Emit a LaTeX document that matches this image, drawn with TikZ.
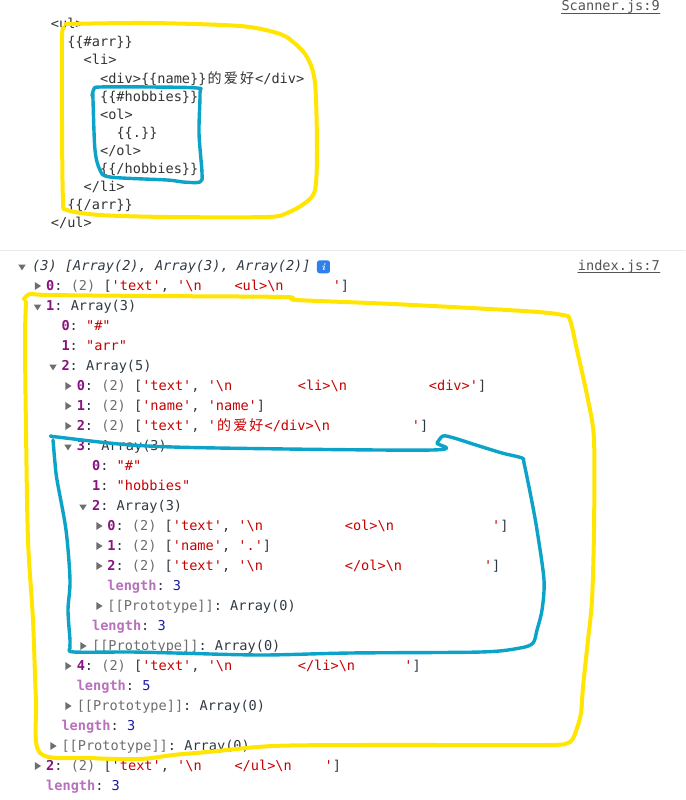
\documentclass[tikz,border=0pt]{standalone}
\usepackage{fontspec}
\setmonofont{DejaVu Sans Mono}
\newfontfamily\cjk{Noto Sans CJK SC}
\usetikzlibrary{positioning}

\definecolor{codegray}{HTML}{303942}
\definecolor{keycol}{HTML}{881280}
\definecolor{lencol}{HTML}{B871BD}
\definecolor{strcol}{HTML}{C80000}
\definecolor{numcol}{HTML}{1A1AA6}
\definecolor{cntcol}{HTML}{6E6E6E}
\definecolor{protocol}{HTML}{6E6E6E}
\definecolor{tricol}{HTML}{6E6E6E}
\definecolor{linkcol}{HTML}{545454}
\definecolor{sepcol}{HTML}{EAEAEA}
\definecolor{infoblue}{HTML}{2F80ED}
\definecolor{penyellow}{HTML}{FFE500}
\definecolor{penblue}{HTML}{0BA3C8}

\newcommand\ky[1]{{\color{keycol}\bfseries#1}:}
\newcommand\st[1]{{\color{strcol}#1}}
\newcommand\cnt[1]{{\color{cntcol}(#1)}}
\newcommand\bsn{\textbackslash n}
\newcommand\lenrow[1]{{\color{lencol}\bfseries length}:~{\color{numcol}#1}}
\newcommand\proto{{\color{protocol}[[Prototype]]}:~Array(0)}
\newcommand\zh[1]{\makebox[16.2pt]{\cjk\fontsize{14}{16}\selectfont#1}}

\begin{document}
\begin{tikzpicture}[x=1pt,y=-1pt,line cap=round,line join=round,
    log/.style={font=\fontsize{13.6}{16}\selectfont\ttfamily,text=codegray,inner sep=0pt,anchor=base west},
    src/.style={log,text=black!80},
    link/.style={log,text=linkcol,anchor=base east},
    infoicon/.style={fill=infoblue,rounded corners=2.5pt,minimum size=13pt,inner sep=0pt,text=white,font=\bfseries\itshape},
    penY/.style={draw=penyellow,line width=4pt},
    penB/.style={draw=penblue,line width=3.4pt},
    tridown/.pic={\fill[tricol] (-3.8,-2.5) -- (3.8,-2.5) -- (0,3.3) -- cycle;},
    triright/.pic={\fill[tricol] (-2.6,-3.9) -- (-2.6,3.9) -- (3.6,0) -- cycle;}]
\useasboundingbox[fill=white] (0,0) rectangle (685,800);

% template
\node[link] (lnkA) at (660,11) {Scanner.js:9};
\draw[linkcol,line width=0.7pt] ([yshift=-2pt]lnkA.base west) -- ([yshift=-2pt]lnkA.base east);
\node[src] (s0) at (50.7,29) {<ul>};
\node[src] (s1) at (67.1,47) {\{\{\#arr\}\}};
\node[src] (s2) at (83.5,65) {<li>};
\node[src] (s3) at (99.9,83) {<div>\{\{name\}\}\zh{的}\zh{爱}\zh{好}</div>};
\node[src] (s4) at (99.9,101) {\{\{\#hobbies\}\}};
\node[src] (s5) at (99.9,119) {<ol>};
\node[src] (s6) at (116.3,137) {\{\{.\}\}};
\node[src] (s7) at (99.9,155) {</ol>};
\node[src] (s8) at (99.9,173) {\{\{/hobbies\}\}};
\node[src] (s9) at (83.5,191) {</li>};
\node[src] (s10) at (67.1,209) {\{\{/arr\}\}};
\node[src] (s11) at (50.7,227) {</ul>};

\draw[sepcol,line width=1pt] (0,250.5) -- (685,250.5);

% console output
\pic at (22,267) {tridown};
\node[log,font=\fontsize{13.6}{16}\selectfont\ttfamily\itshape] (hdr) at (32,270.5) {(3) [Array(2), Array(3), Array(2)]};
\node[infoicon,right=6pt of hdr] (info) {i};
\node[link] (lnkB) at (660,270.5) {index.js:7};
\draw[linkcol,line width=0.7pt] ([yshift=-2pt]lnkB.base west) -- ([yshift=-2pt]lnkB.base east);

\pic at (37.5,286) {triright};
\node[log] (r1) at (46,290.5) {\ky{0}~\cnt{2}~[\st{'text'},~\st{'\bsn~~~~<ul>\bsn~~~~~~'}]};
\pic at (37.5,307) {tridown};
\node[log] (r2) at (46,310.5) {\ky{1}~Array(3)};
\node[log] (r3) at (61.3,330.5) {\ky{0}~\st{"\#"}};
\node[log] (r4) at (61.3,350.5) {\ky{1}~\st{"arr"}};
\pic at (53,367) {tridown};
\node[log] (r5) at (61.3,370.5) {\ky{2}~Array(5)};
\pic at (68,386) {triright};
\node[log] (r6) at (76.6,390.5) {\ky{0}~\cnt{2}~[\st{'text'},~\st{'\bsn~~~~~~~~<li>\bsn~~~~~~~~~~<div>'}]};
\pic at (68,406) {triright};
\node[log] (r7) at (76.6,410.5) {\ky{1}~\cnt{2}~[\st{'name'},~\st{'name'}]};
\pic at (68,426) {triright};
\node[log] (r8) at (76.6,430.5) {\ky{2}~\cnt{2}~[\st{'text'},~\st{'\zh{的}\zh{爱}\zh{好}</div>\bsn~~~~~~~~~~'}]};
\pic at (68,447) {tridown};
\node[log] (r9) at (76.6,450.5) {\ky{3}~Array(3)};
\node[log] (r10) at (91.9,470.5) {\ky{0}~\st{"\#"}};
\node[log] (r11) at (91.9,490.5) {\ky{1}~\st{"hobbies"}};
\pic at (83,507) {tridown};
\node[log] (r12) at (91.9,510.5) {\ky{2}~Array(3)};
\pic at (99,526) {triright};
\node[log] (r13) at (107.2,530.5) {\ky{0}~\cnt{2}~[\st{'text'},~\st{'\bsn~~~~~~~~~~<ol>\bsn~~~~~~~~~~~~'}]};
\pic at (99,546) {triright};
\node[log] (r14) at (107.2,550.5) {\ky{1}~\cnt{2}~[\st{'name'},~\st{'.'}]};
\pic at (99,566) {triright};
\node[log] (r15) at (107.2,570.5) {\ky{2}~\cnt{2}~[\st{'text'},~\st{'\bsn~~~~~~~~~~</ol>\bsn~~~~~~~~~~'}]};
\node[log] (r16) at (107.2,590.5) {\lenrow{3}};
\pic at (99,606) {triright};
\node[log] (r17) at (107.2,610.5) {\proto};
\node[log] (r18) at (91.9,630.5) {\lenrow{3}};
\pic at (83,646) {triright};
\node[log] (r19) at (91.9,650.5) {\proto};
\pic at (68,666) {triright};
\node[log] (r20) at (76.6,670.5) {\ky{4}~\cnt{2}~[\st{'text'},~\st{'\bsn~~~~~~~~</li>\bsn~~~~~~'}]};
\node[log] (r21) at (76.6,690.5) {\lenrow{5}};
\pic at (68,706) {triright};
\node[log] (r22) at (76.6,710.5) {\proto};
\node[log] (r23) at (61.3,730.5) {\lenrow{3}};
\pic at (53,746) {triright};
\node[log] (r24) at (61.3,750.5) {\proto};
\pic at (37.5,766) {triright};
\node[log] (r25) at (46,770.5) {\ky{2}~\cnt{2}~[\st{'text'},~\st{'\bsn~~~~</ul>\bsn~~~~'}]};
\node[log] (r26) at (46,790.5) {\lenrow{3}};

% hand drawn loops
\draw[penY] plot[smooth,tension=0.5] coordinates {(66,24) (150,23) (240,26) (277,33) (292,41) (307,57) (315,83) (317,150) (315,190) (305,203) (287,213) (267,217) (167,217) (100,215) (67,210) (63,200) (62,120) (62,37) (64,28)};
\draw[penB] plot[smooth,tension=0.5] coordinates {(92,96) (94,89) (100,87) (150,87) (197,88) (200,93) (199,133) (202,173) (200,182) (183,182) (167,180) (110,177) (100,170) (95,150) (93,100) (93,93)};
\draw[penY] plot[smooth,tension=0.5] coordinates {(24,299) (30,294) (48,295) (150,296) (284,297) (297,300) (393,304) (524,311) (563,315) (570,320) (577,350) (588,400) (594,440) (594,530) (592,600) (588,640) (583,687) (581,713) (577,728) (570,742) (550,745) (450,745) (360,745) (273,746) (207,752) (173,755) (140,759) (90,758) (40,753) (36,700) (33,620) (28,540) (26,430) (25,340) (26,302)};
\draw[penB] plot[smooth,tension=0.5] coordinates {(52,436) (57,437) (131,445) (218,448) (432,450) (437,443) (443,436) (454,438) (476,445) (502,453) (522,458) (524,463) (531,497) (537,530) (544,580) (542,610) (537,630) (533,643) (520,648) (481,652) (350,653) (262,655) (175,653) (131,652) (74,652) (70,648) (70,640) (68,610) (70,580) (66,530) (57,480) (55,463) (53,440)};
\end{tikzpicture}
\end{document}
